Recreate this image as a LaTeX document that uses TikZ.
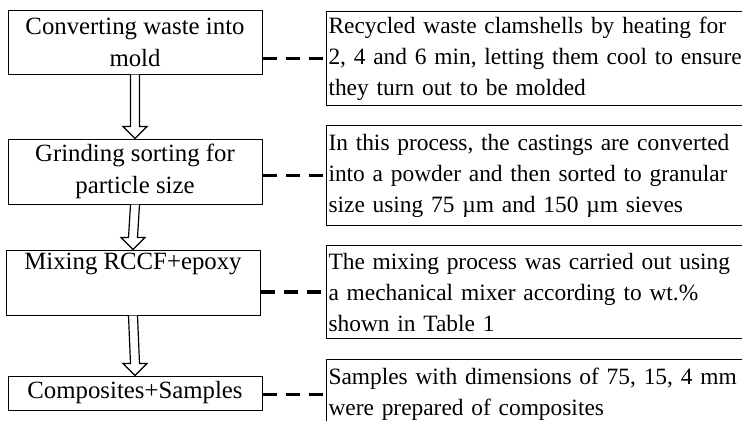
\documentclass[tikz,border=0pt]{standalone}
\usepackage{fontspec}
\setmainfont{Liberation Serif}
\usetikzlibrary{calc}
\tikzset{
  stepbox/.style={draw, line width=0.5pt, align=center, minimum width=127pt, inner sep=1pt,
                  font=\fontsize{12.4}{16}\selectfont},
  notebox/.style={draw, line width=0.5pt, anchor=north west, align=left, text width=212pt,
                  inner xsep=1pt, inner ysep=0pt, font=\fontsize{11.7}{15.5}\selectfont},
  dashlink/.style={line width=1.65pt, dash pattern=on 7pt off 4.5pt},
  hollow/.style={draw, fill=white, line width=0.6pt, line join=miter}
}
% hollow block arrow from the bottom of #1 to the top of #2
\newcommand{\flowarrow}[2]{
  \draw[hollow] ($(#1.south)+(-4.5,0)$) -- ($(#2.north)+(-4.5,-12)$) -- ($(#2.north)+(-12,-12)$)
    -- (#2.north) -- ($(#2.north)+(12,-12)$) -- ($(#2.north)+(4.5,-12)$) -- ($(#1.south)+(4.5,0)$);
}
\begin{document}
\begin{tikzpicture}[x=0.5pt,y=-0.5pt]
  \useasboundingbox (0,0) rectangle (742,420);
  \clip (0,0) rectangle (742,420);
  % process steps
  \node[stepbox, minimum height=32pt] (convert) at (135,42) {Converting waste into\\ mold};
  \node[stepbox, minimum height=32.5pt] (grind) at (135,171.5) {Grinding sorting for\\ particle size};
  \node[stepbox, minimum height=32.5pt] (mix) at (133,282.5) {Mixing RCCF+epoxy\\ \strut};
  \node[stepbox, minimum height=17pt] (samples) at (135,393) {Composites+Samples};
  % notes
  \node[notebox, minimum height=47pt] (convertnote) at (326,11)
    {Recycled waste clamshells by heating for\\ 2, 4 and 6 min, letting them cool to ensure\\ they turn out to be molded};
  \node[notebox, minimum height=50pt] (grindnote) at (326,125)
    {In this process, the castings are converted\\ into a powder and then sorted to granular\\ size using 75 µm and 150 µm sieves};
  \node[notebox, minimum height=46.5pt] (mixnote) at (326,245)
    {The mixing process was carried out using\\ a mechanical mixer according to wt.\%\\ shown in Table 1};
  \node[notebox, minimum height=35pt] (samplesnote) at (326,359)
    {Samples with dimensions of 75, 15, 4 mm\\ were prepared of composites};
  % arrows
  \flowarrow{convert}{grind}
  \flowarrow{grind}{mix}
  \flowarrow{mix}{samples}
  % links
  \foreach \s in {convert,grind,mix,samples} {
    \draw[dashlink] (\s.east |- \s note.west) -- (\s note.west);
  }
\end{tikzpicture}
\end{document}
